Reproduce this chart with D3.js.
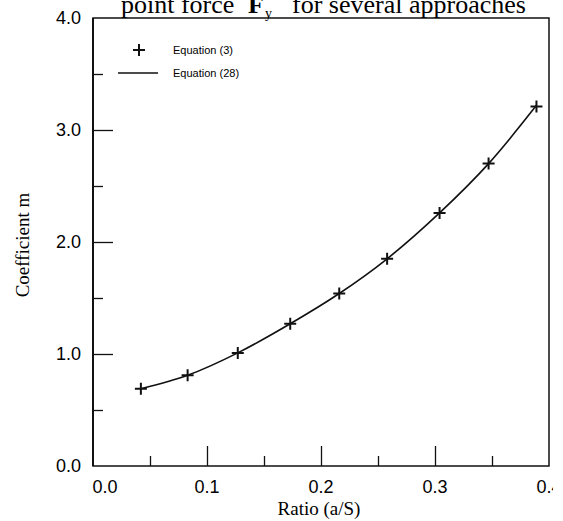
<!DOCTYPE html>
<html>
<head>
<meta charset="utf-8">
<script src="https://cdn.jsdelivr.net/npm/d3@7"></script>
<style>
  html, body { margin: 0; padding: 0; background: #fff; }
  svg { display: block; }
</style>
</head>
<body>
<svg id="chart"></svg>
<script>
// data
const ratio = [0.042, 0.083, 0.127, 0.173, 0.216, 0.258, 0.304, 0.347, 0.389];
const eq3 = [0.69, 0.81, 1.01, 1.27, 1.54, 1.85, 2.26, 2.70, 3.21];
const eq28 = [0.69, 0.81, 1.01, 1.27, 1.54, 1.85, 2.26, 2.70, 3.22];
const xTickLabels = ["0.0", "0.1", "0.2", "0.3", "0.4"];
const yTickLabels = ["0.0", "1.0", "2.0", "3.0", "4.0"];
const legendNames = ["Equation (3)", "Equation (28)"];

const margin = { top: 18, right: 14, bottom: 55, left: 93 };
const width = 456;
const height = 448;

const svg = d3.select("#chart")
  .attr("width", 553)
  .attr("height", 521);

const g = svg.append("g")
  .attr("transform", `translate(${margin.left},${margin.top})`);

const x = d3.scaleLinear().domain([0, 0.4]).range([0, width]);
const y = d3.scaleLinear().domain([0, 4]).range([height, 0]);

// frame
g.append("rect")
  .attr("width", width)
  .attr("height", height)
  .attr("fill", "none")
  .attr("stroke", "#111")
  .attr("stroke-width", 1.5);
g.append("line")
  .attr("x1", 0).attr("x2", 0)
  .attr("y1", 0).attr("y2", height)
  .attr("stroke", "#111").attr("stroke-width", 2);

// x axis: ticks point inward, labels below
const xAxis = d3.axisTop(x)
  .tickValues(d3.range(1, 4).map(d => d / 10))
  .tickSize(20)
  .tickFormat("");
g.append("g")
  .attr("transform", `translate(0,${height})`)
  .call(xAxis)
  .call(a => a.select(".domain").remove())
  .selectAll("line").attr("stroke", "#111").attr("stroke-width", 1.3);

const xMinor = d3.axisTop(x)
  .tickValues([0.05, 0.15, 0.25, 0.35])
  .tickSize(10)
  .tickFormat("");
g.append("g")
  .attr("transform", `translate(0,${height})`)
  .call(xMinor)
  .call(a => a.select(".domain").remove())
  .selectAll("line").attr("stroke", "#111").attr("stroke-width", 1.3);

// first label is nudged right so it clears the y label
g.selectAll(".xlab")
  .data(xTickLabels)
  .enter()
  .append("text")
  .attr("class", "xlab")
  .attr("x", (d, i) => x(+d) + (i === 0 ? 12 : 0))
  .attr("y", height + 27)
  .attr("text-anchor", "middle")
  .style("font-family", "'Liberation Sans', Arial, sans-serif")
  .style("font-size", "18px")
  .text(d => d);

// y axis
const yAxis = d3.axisRight(y)
  .tickValues([1, 2, 3])
  .tickSize(20)
  .tickFormat("");
g.append("g")
  .call(yAxis)
  .call(a => a.select(".domain").remove())
  .selectAll("line").attr("stroke", "#111").attr("stroke-width", 1.3);

const yMinor = d3.axisRight(y)
  .tickValues([0.5, 1.5, 2.5, 3.5])
  .tickSize(10)
  .tickFormat("");
g.append("g")
  .call(yMinor)
  .call(a => a.select(".domain").remove())
  .selectAll("line").attr("stroke", "#111").attr("stroke-width", 1.3);

g.selectAll(".ylab")
  .data(yTickLabels)
  .enter()
  .append("text")
  .attr("class", "ylab")
  .attr("x", -12)
  .attr("y", d => y(+d))
  .attr("dy", "0.35em")
  .attr("text-anchor", "end")
  .style("font-family", "'Liberation Sans', Arial, sans-serif")
  .style("font-size", "18px")
  .text(d => d);

// curve (Equation 28)
const line = d3.line()
  .x((d, i) => x(ratio[i]))
  .y(d => y(d))
  .curve(d3.curveCatmullRom);
g.append("path")
  .datum(eq28)
  .attr("d", line)
  .attr("fill", "none")
  .attr("stroke", "#111")
  .attr("stroke-width", 1.6);

// plus markers (Equation 3)
const pr = 6;
const plusPath = `M${-pr},0H${pr}M0,${-pr}V${pr}`;
g.selectAll(".pt")
  .data(eq3)
  .enter()
  .append("path")
  .attr("class", "pt")
  .attr("d", plusPath)
  .attr("transform", (d, i) => `translate(${x(ratio[i])},${y(d)})`)
  .attr("stroke", "#111")
  .attr("stroke-width", 2);

// legend
const legend = svg.append("g");
legend.append("path")
  .attr("d", plusPath)
  .attr("transform", "translate(139,50)")
  .attr("stroke", "#111")
  .attr("stroke-width", 2);
legend.append("line")
  .attr("x1", 118).attr("x2", 158)
  .attr("y1", 73).attr("y2", 73)
  .attr("stroke", "#111").attr("stroke-width", 1.3);
legend.selectAll("text")
  .data(legendNames)
  .enter()
  .append("text")
  .attr("x", 173)
  .attr("y", (d, i) => 50 + i * 23)
  .attr("dy", "0.35em")
  .style("font-family", "'Liberation Sans Narrow', 'Arial Narrow', sans-serif")
  .style("font-size", "11px")
  .text(d => d);

// title (clipped at the top in the source)
const title = svg.append("text")
  .attr("y", 13)
  .style("font-family", "'Liberation Serif', 'Times New Roman', serif")
  .style("font-size", "26px");
title.append("tspan").attr("x", 121).text("point force");
title.append("tspan").attr("x", 248).style("font-weight", "bold").text("F");
title.append("tspan").attr("x", 265).attr("dy", 5).style("font-size", "14px").text("y");
title.append("tspan").attr("x", 292).attr("dy", -5).text("for several approaches");

// axis titles
svg.append("text")
  .attr("x", 319)
  .attr("y", 515)
  .attr("text-anchor", "middle")
  .style("font-family", "'Liberation Serif', 'Times New Roman', serif")
  .style("font-size", "19px")
  .text("Ratio (a/S)");

svg.append("text")
  .attr("transform", "translate(29,245) rotate(-90)")
  .attr("text-anchor", "middle")
  .style("font-family", "'Liberation Serif', 'Times New Roman', serif")
  .style("font-size", "19px")
  .text("Coefficient m");
</script>
</body>
</html>
